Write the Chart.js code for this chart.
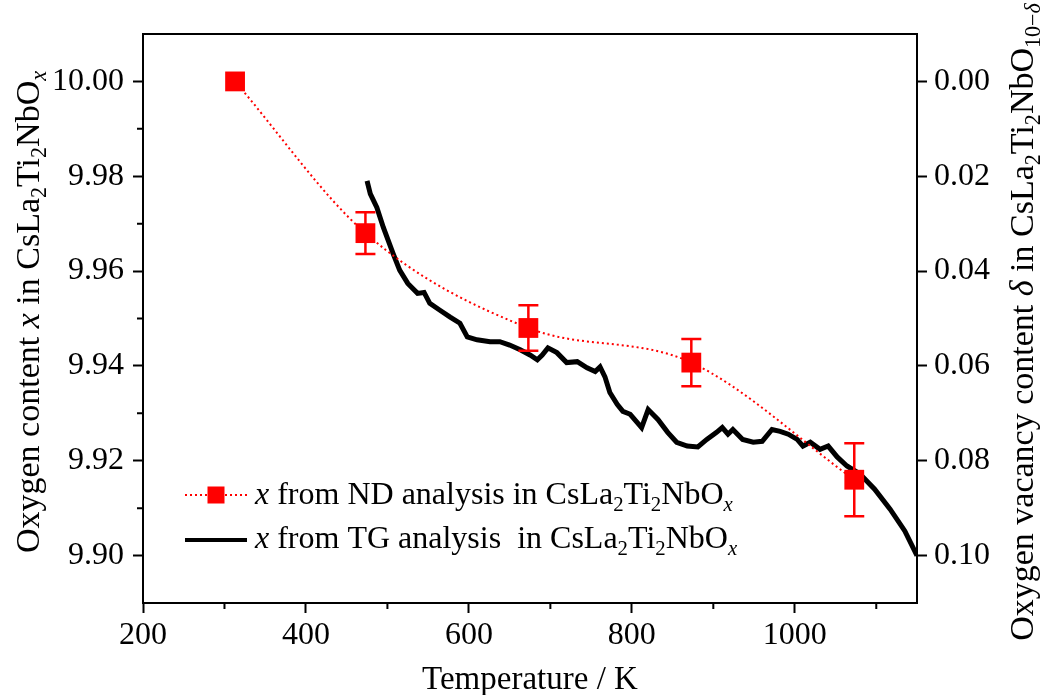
<!DOCTYPE html>
<html>
<head>
<meta charset="utf-8">
<script src="https://cdn.jsdelivr.net/npm/chart.js@4.4.0/dist/chart.umd.min.js"></script>
<style>
  html, body { margin: 0; padding: 0; background: #fff; }
  #wrap { width: 1043px; height: 695px; }
</style>
</head>
<body>
<div id="wrap"><canvas id="c" width="1043" height="695"></canvas></div>
<script>
// ND 분석 (점 + 오차막대)
var ndTemp = [313, 473, 673, 873, 1073];
var ndX = [10.000, 9.968, 9.948, 9.9407, 9.916];
var ndErr = [0, 0.0044, 0.0048, 0.005, 0.0077];

// TG 분석 (연속 곡선, 그림에서 읽은 값)
var tgTemp = [475, 479, 487, 495, 507, 515, 525, 537, 545, 552, 564, 577, 589, 598, 610,
  626, 638, 650, 663, 675, 684, 690, 697, 708, 720, 733, 745, 755, 761, 767, 773, 782,
  789, 798, 812, 820, 832, 844, 855, 868, 881, 892, 904, 911, 918, 924, 936, 949, 960,
  972, 982, 992, 1003, 1010, 1019, 1031, 1041, 1052, 1064, 1080, 1098, 1117, 1135, 1150];
var tgX = [9.9790, 9.9763, 9.9734, 9.9692, 9.9637, 9.9602, 9.9574, 9.9553, 9.9555, 9.9532,
  9.9518, 9.9503, 9.9490, 9.9461, 9.9455, 9.9451, 9.9451, 9.9444, 9.9434, 9.9423, 9.9413,
  9.9423, 9.9438, 9.9428, 9.9407, 9.9409, 9.9396, 9.9388, 9.9398, 9.9377, 9.9344, 9.9319,
  9.9304, 9.9298, 9.9270, 9.9308, 9.9287, 9.9260, 9.9239, 9.9231, 9.9229, 9.9245, 9.9260,
  9.9270, 9.9256, 9.9266, 9.9245, 9.9239, 9.9241, 9.9266, 9.9262, 9.9256, 9.9245, 9.9231,
  9.9239, 9.9224, 9.9231, 9.9208, 9.9189, 9.9172, 9.9140, 9.9098, 9.9052, 9.9000];

// 눈금
var xTicks = [200, 400, 600, 800, 1000];
var xMinor = [300, 500, 700, 900, 1100];
var yTicks = [9.90, 9.92, 9.94, 9.96, 9.98, 10.00];
var yMinor = [9.91, 9.93, 9.95, 9.97, 9.99];
var dTicks = [0.00, 0.02, 0.04, 0.06, 0.08, 0.10];

var FONT = '"Liberation Serif", "Times New Roman", serif';

// 텍스트 조각: [글자, 스타일]  i=기울임, s=아래첨자, si=기울임 아래첨자
var formula = [['CsLa'], ['2', 's'], ['Ti'], ['2', 's'], ['NbO'], ['x', 'si']];
var leftTitle = [['Oxygen content '], ['x', 'i'], [' in ']].concat(formula);
var rightTitle = [['Oxygen vacancy content '], ['\u03b4', 'i'], [' in CsLa'], ['2', 's'],
  ['Ti'], ['2', 's'], ['NbO'], ['10\u2212', 's'], ['\u03b4', 'si']];
var bottomTitle = [['Temperature / K']];
var legendND = [['x', 'i'], [' from ND analysis in ']].concat(formula);
var legendTG = [['x', 'i'], [' from TG analysis  in ']].concat(formula);

function segFont(s, size) {
  var st = s[1] || '';
  var sz = st.indexOf('s') >= 0 ? size * 0.65 : size;
  return (st.indexOf('i') >= 0 ? 'italic ' : '') + sz + 'px ' + FONT;
}

function richWidth(ctx, segs, size) {
  var w = 0;
  segs.forEach(function (s) {
    ctx.font = segFont(s, size);
    w += ctx.measureText(s[0]).width;
  });
  return w;
}

function drawRich(ctx, segs, x, y, size) {
  ctx.textAlign = 'left';
  ctx.textBaseline = 'alphabetic';
  segs.forEach(function (s) {
    ctx.font = segFont(s, size);
    var dy = (s[1] || '').indexOf('s') >= 0 ? size * 0.22 : 0;
    ctx.fillText(s[0], x, y + dy);
    x += ctx.measureText(s[0]).width;
  });
}

function drawRotated(ctx, segs, cx, cy, size) {
  ctx.save();
  ctx.translate(cx, cy);
  ctx.rotate(-Math.PI / 2);
  drawRich(ctx, segs, -richWidth(ctx, segs, size) / 2, 0, size);
  ctx.restore();
}

var decor = {
  id: 'decor',
  afterDatasetsDraw: function (chart) {
    var ctx = chart.ctx;
    var xs = chart.scales.x;
    var ys = chart.scales.y;
    ctx.save();
    ctx.strokeStyle = '#ff0000';
    ctx.lineWidth = 2.5;
    ndTemp.forEach(function (t, i) {
      if (!ndErr[i]) return;
      var px = xs.getPixelForValue(t);
      var top = ys.getPixelForValue(ndX[i] + ndErr[i]);
      var bot = ys.getPixelForValue(ndX[i] - ndErr[i]);
      ctx.beginPath();
      ctx.moveTo(px, top); ctx.lineTo(px, bot);
      ctx.moveTo(px - 10, top); ctx.lineTo(px + 10, top);
      ctx.moveTo(px - 10, bot); ctx.lineTo(px + 10, bot);
      ctx.stroke();
    });
    ctx.restore();
  },
  afterDraw: function (chart) {
    var ctx = chart.ctx;
    var a = chart.chartArea;
    var xs = chart.scales.x;
    var ys = chart.scales.y;
    ctx.save();
    ctx.strokeStyle = '#000';
    ctx.lineWidth = 2;
    // 위쪽 테두리
    ctx.beginPath();
    ctx.moveTo(a.left - 1, a.top);
    ctx.lineTo(a.right + 1, a.top);
    ctx.stroke();
    // 보조 눈금
    ctx.beginPath();
    xMinor.forEach(function (v) {
      var p = xs.getPixelForValue(v);
      ctx.moveTo(p, a.bottom); ctx.lineTo(p, a.bottom + 6);
    });
    yMinor.forEach(function (v) {
      var p = ys.getPixelForValue(v);
      ctx.moveTo(a.left, p); ctx.lineTo(a.left - 6, p);
    });
    ctx.stroke();

    // 축 제목
    ctx.fillStyle = '#000';
    drawRotated(ctx, leftTitle, 39, 312, 34);
    drawRotated(ctx, rightTitle, 1033, 322, 34);
    var bw = richWidth(ctx, bottomTitle, 33);
    drawRich(ctx, bottomTitle, (a.left + a.right) / 2 - bw / 2, 689, 33);

    // 범례
    var r1 = 495, r2 = 540;
    ctx.strokeStyle = '#ff0000';
    ctx.lineWidth = 2;
    ctx.setLineDash([2, 3]);
    ctx.beginPath();
    ctx.moveTo(185, r1); ctx.lineTo(247, r1);
    ctx.stroke();
    ctx.setLineDash([]);
    ctx.fillStyle = '#ff0000';
    ctx.fillRect(216 - 8.5, r1 - 8.5, 17, 17);
    ctx.strokeStyle = '#000';
    ctx.lineWidth = 4;
    ctx.beginPath();
    ctx.moveTo(185, r2); ctx.lineTo(247, r2);
    ctx.stroke();
    ctx.fillStyle = '#000';
    drawRich(ctx, legendND, 255, r1 + 9, 32);
    drawRich(ctx, legendTG, 255, r2 + 8, 32);
    ctx.restore();
  }
};

function pts(xsArr, ysArr) {
  return xsArr.map(function (v, i) { return { x: v, y: ysArr[i] }; });
}

var tickFont = { family: FONT, size: 32 };

new Chart(document.getElementById('c').getContext('2d'), {
  type: 'line',
  data: {
    datasets: [{
      label: 'ND',
      data: pts(ndTemp, ndX),
      borderColor: '#ff0000',
      backgroundColor: '#ff0000',
      borderWidth: 2,
      borderDash: [2, 3],
      cubicInterpolationMode: 'monotone',
      pointStyle: 'rect',
      pointRadius: 14,
      pointBorderWidth: 0,
      pointBackgroundColor: '#ff0000'
    }, {
      label: 'TG',
      data: pts(tgTemp, tgX),
      borderColor: '#000',
      borderWidth: 5,
      pointRadius: 0,
      tension: 0
    }]
  },
  options: {
    responsive: false,
    animation: false,
    devicePixelRatio: 1,
    layout: { padding: { top: 34, left: 0, right: 0, bottom: 0 } },
    plugins: { legend: { display: false }, tooltip: { enabled: false } },
    scales: {
      x: {
        type: 'linear',
        min: 200,
        max: 1150,
        afterBuildTicks: function (s) { s.ticks = xTicks.map(function (v) { return { value: v }; }); },
        afterFit: function (s) { s.height = 92; },
        ticks: { font: tickFont, color: '#000', padding: 3, maxRotation: 0,
          callback: function (v) { return String(v); } },
        grid: { drawOnChartArea: false, tickLength: 10, tickColor: '#000', tickWidth: 2 },
        border: { color: '#000', width: 2 }
      },
      y: {
        position: 'left',
        min: 9.89,
        max: 10.01,
        afterBuildTicks: function (s) { s.ticks = yTicks.map(function (v) { return { value: v }; }); },
        afterFit: function (s) { s.width = 143; },
        ticks: { font: tickFont, color: '#000', padding: 9,
          callback: function (v) { return v.toFixed(2); } },
        grid: { drawOnChartArea: false, tickLength: 10, tickColor: '#000', tickWidth: 2 },
        border: { color: '#000', width: 2 }
      },
      y2: {
        position: 'right',
        min: -0.01,
        max: 0.11,
        reverse: true,
        afterBuildTicks: function (s) { s.ticks = dTicks.map(function (v) { return { value: v }; }); },
        afterFit: function (s) { s.width = 126; },
        ticks: { font: tickFont, color: '#000', padding: 7,
          callback: function (v) { return v.toFixed(2); } },
        grid: { drawOnChartArea: false, tickLength: 10, tickColor: '#000', tickWidth: 2 },
        border: { color: '#000', width: 2 }
      }
    }
  },
  plugins: [decor]
});
</script>
</body>
</html>
